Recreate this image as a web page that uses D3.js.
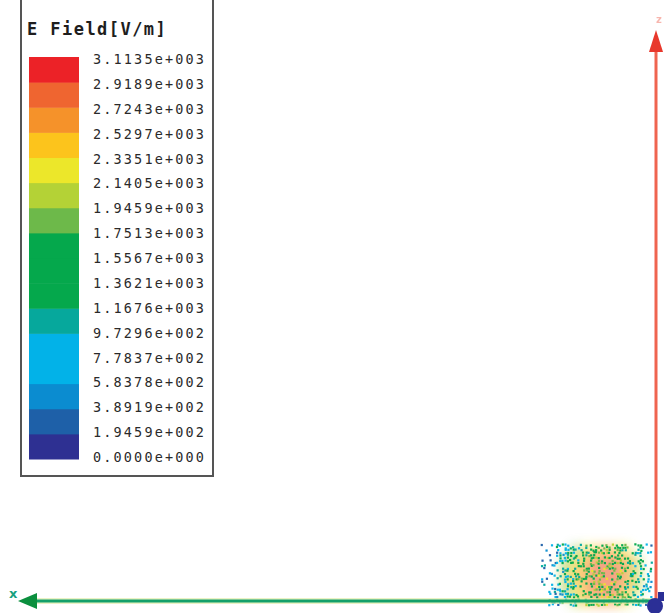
<!DOCTYPE html>
<html>
<head>
<meta charset="utf-8">
<script src="https://cdn.jsdelivr.net/npm/d3@7/dist/d3.min.js"></script>
<style>
  html, body { margin: 0; padding: 0; background: #fff; }
  svg { display: block; }
</style>
</head>
<body>
<svg id="chart" width="664" height="613"></svg>
<script>
// Legend levels of |E| in V/m (top label first) and band colours (lowest band first)
const legendLabels = [
  "3.1135e+003", "2.9189e+003", "2.7243e+003", "2.5297e+003", "2.3351e+003",
  "2.1405e+003", "1.9459e+003", "1.7513e+003", "1.5567e+003", "1.3621e+003",
  "1.1676e+003", "9.7296e+002", "7.7837e+002", "5.8378e+002", "3.8919e+002",
  "1.9459e+002", "0.0000e+000"
];
const bandColors = [
  "#2e3092", "#1e60a8", "#0b8cd0", "#02b2e8", "#02b2e8", "#06a89c",
  "#05a84c", "#05a84c", "#05a84c", "#6db94a", "#b4d236", "#ece72a",
  "#fcc41c", "#f5922a", "#ef6530", "#ec2227"
];

// Sampled field on the plotted face (model units): columns along x, rows along z
const fieldX = [11, 10, 9, 8, 7, 6, 5, 4, 3, 2, 1];
const fieldZ = [5, 4, 3, 2, 1, 0];
// Field magnitude at the surface mesh points (V/m)
const pointField = [
  [600, 750, 1000, 1250, 1500, 1650, 1700, 1600, 1400, 1100, 800],
  [650, 800, 1100, 1350, 1600, 1800, 1850, 1750, 1500, 1200, 850],
  [650, 850, 1150, 1400, 1700, 1900, 1950, 1800, 1550, 1200, 850],
  [650, 850, 1150, 1400, 1700, 1900, 1950, 1800, 1550, 1200, 850],
  [650, 800, 1100, 1350, 1650, 1850, 1900, 1750, 1500, 1150, 800],
  [600, 750, 1050, 1300, 1600, 1800, 1850, 1700, 1450, 1100, 750]
];
// Share of mesh points visible per column
const pointDensity = [0.22, 0.32, 0.42, 0.48, 0.5, 0.52, 0.52, 0.52, 0.5, 0.45, 0.32];
// Volume field behind the face (V/m), 0 where nothing is shown
const volumeField = [
  [0, 0, 0, 1900, 2300, 2500, 2600, 2500, 2300, 0, 0],
  [0, 0, 1900, 2300, 2600, 2800, 2850, 2800, 2600, 2000, 0],
  [0, 0, 2000, 2400, 2700, 2900, 2900, 2850, 2650, 2100, 0],
  [0, 0, 2000, 2400, 2700, 2900, 2900, 2850, 2650, 2100, 0],
  [0, 0, 1900, 2300, 2600, 2800, 2850, 2750, 2500, 2000, 0],
  [0, 0, 0, 2100, 2400, 2600, 2700, 2600, 2300, 0, 0]
];

const svg = d3.select("#chart");
const levels = legendLabels.map(Number);           // descending
const ascending = levels.slice().reverse();
const color = d3.scaleThreshold()
  .domain(ascending.slice(1, -1))
  .range(bandColors);

// ---------- scene scales (model units -> pixels) ----------
const xScale = d3.scaleLinear().domain([0, 64]).range([656, 16]);
const zScale = d3.scaleLinear().domain([0, 57.5]).range([601, 26]);
const cellW = Math.abs(xScale(1) - xScale(0));
const cellH = Math.abs(zScale(1) - zScale(0));

const defs = svg.append("defs");
defs.append("filter").attr("id", "haze").attr("x", "-50%").attr("y", "-50%")
  .attr("width", "200%").attr("height", "200%")
  .append("feGaussianBlur").attr("stdDeviation", 6);
defs.append("filter").attr("id", "soft")
  .append("feGaussianBlur").attr("stdDeviation", 0.45);
defs.append("clipPath").attr("id", "stage")
  .append("rect").attr("x", 0).attr("y", 0).attr("width", 664).attr("height", 613);

const scene = svg.append("g").attr("clip-path", "url(#stage)");

// volume field haze
const hazeG = scene.append("g").attr("filter", "url(#haze)").attr("opacity", 0.6);
volumeField.forEach((row, r) => row.forEach((v, c) => {
  if (v <= 0) return;
  hazeG.append("rect")
    .attr("x", xScale(fieldX[c]) - cellW / 2)
    .attr("y", zScale(fieldZ[r]) - cellH / 2)
    .attr("width", cellW).attr("height", cellH)
    .attr("fill", color(v));
}));

// surface mesh points, interpolated from the sampled field
function sampleGrid(grid, fc, fr) {
  const c0 = Math.max(0, Math.min(grid[0].length - 1, Math.floor(fc)));
  const r0 = Math.max(0, Math.min(grid.length - 1, Math.floor(fr)));
  const c1 = Math.min(grid[0].length - 1, c0 + 1);
  const r1 = Math.min(grid.length - 1, r0 + 1);
  const tc = Math.max(0, Math.min(1, fc - c0)), tr = Math.max(0, Math.min(1, fr - r0));
  const top = grid[r0][c0] * (1 - tc) + grid[r0][c1] * tc;
  const bot = grid[r1][c0] * (1 - tc) + grid[r1][c1] * tc;
  return top * (1 - tr) + bot * tr;
}
// deterministic grain for the mesh-point texture
function grain(i, j, k) {
  const s = Math.sin(i * 12.9898 + j * 78.233 + k * 37.719) * 43758.5453;
  return s - Math.floor(s);
}
const pitch = 2.6;
const x0 = xScale(fieldX[0]) - cellW / 2, x1 = xScale(fieldX[fieldX.length - 1]) + cellW / 2;
const y0 = zScale(fieldZ[0]) - cellH / 2 - 2, y1 = zScale(fieldZ[fieldZ.length - 1]) + cellH / 2;
const pts = [];
for (let i = 0; x0 + i * pitch < x1; i++) {
  for (let j = 0; y0 + j * pitch < y1; j++) {
    const px = x0 + i * pitch, py = y0 + j * pitch;
    const fc = (xScale.invert(px) - fieldX[0]) / (fieldX[1] - fieldX[0]);
    const fr = (zScale.invert(py) - fieldZ[0]) / (fieldZ[1] - fieldZ[0]);
    const dens = pointDensity[Math.max(0, Math.min(pointDensity.length - 1, Math.round(fc)))];
    if (grain(i, j, 1) > dens) continue;
    const v = sampleGrid(pointField, fc, fr) + (grain(i, j, 2) - 0.5) * 900;
    pts.push({ x: px + (grain(i, j, 3) - 0.5) * 1.5, y: py + (grain(i, j, 4) - 0.5) * 1.5, v: Math.max(0, v) });
  }
}
scene.append("g").attr("filter", "url(#soft)")
  .selectAll("rect").data(pts).join("rect")
  .attr("x", d => d.x).attr("y", d => d.y)
  .attr("width", 2.2).attr("height", 2.2)
  .attr("fill", d => color(d.v))
  .attr("opacity", 0.95);

// ---------- coordinate triad ----------
const axisG = scene.append("g");
// x axis (green, pointing left)
axisG.append("line")
  .attr("x1", xScale(0)).attr("x2", xScale(62))
  .attr("y1", zScale(0)).attr("y2", zScale(0))
  .attr("stroke", "#dfeaa0").attr("stroke-width", 6).attr("opacity", 0.6);
axisG.append("line")
  .attr("x1", xScale(0)).attr("x2", xScale(62))
  .attr("y1", zScale(0)).attr("y2", zScale(0))
  .attr("stroke", "#14a06a").attr("stroke-width", 3);
axisG.append("path")
  .attr("d", `M${xScale(63.8)},${zScale(0)} L${xScale(61.9)},${zScale(0) - 8} L${xScale(61.9)},${zScale(0) + 8} Z`)
  .attr("fill", "#0b8f3e");
axisG.append("text")
  .attr("x", 9).attr("y", zScale(0) - 3)
  .attr("font-family", "DejaVu Sans, sans-serif").attr("font-weight", "bold")
  .attr("font-size", 13).attr("fill", "#1aa080").text("x");

// z axis (red, pointing up)
axisG.append("line")
  .attr("x1", xScale(0)).attr("x2", xScale(0))
  .attr("y1", zScale(0)).attr("y2", zScale(55))
  .attr("stroke", "#ef6450").attr("stroke-width", 3);
axisG.append("path")
  .attr("d", `M${xScale(0)},${zScale(57.1)} L${xScale(0) - 7},${zScale(54.9)} L${xScale(0) + 7},${zScale(54.9)} Z`)
  .attr("fill", "#e8382c");
axisG.append("text")
  .attr("x", xScale(0)).attr("y", zScale(57.8))
  .attr("font-family", "DejaVu Sans, sans-serif").attr("font-weight", "bold")
  .attr("font-size", 10).attr("fill", "#f07060").attr("opacity", 0.5).text("z");

// y axis (blue, toward the viewer)
axisG.append("rect")
  .attr("x", xScale(0) + 2).attr("y", zScale(0.9)).attr("width", 8).attr("height", 9)
  .attr("fill", "#2b2f96");
axisG.append("circle")
  .attr("cx", xScale(0) - 1).attr("cy", zScale(-0.5)).attr("r", 8)
  .attr("fill", "#2b2f96");

// ---------- legend ----------
const legend = svg.append("g");
legend.append("rect")
  .attr("x", 21).attr("y", -6).attr("width", 192).attr("height", 482)
  .attr("fill", "#fff").attr("stroke", "#555").attr("stroke-width", 2);
legend.append("text")
  .attr("x", 27).attr("y", 35)
  .attr("font-family", "DejaVu Sans Mono, monospace").attr("font-weight", "bold")
  .attr("font-size", 17).attr("letter-spacing", 1.45).attr("fill", "#1e1e1e")
  .text("E Field[V/m]");

const legendScale = d3.scaleLinear()
  .domain([levels[0], levels[levels.length - 1]])
  .range([57, 459]);
legend.append("g").selectAll("rect")
  .data(bandColors.map((c, i) => ({ c, lo: ascending[i], hi: ascending[i + 1] })))
  .join("rect")
  .attr("x", 29).attr("width", 50)
  .attr("y", d => legendScale(d.hi))
  .attr("height", d => legendScale(d.lo) - legendScale(d.hi) + 0.5)
  .attr("fill", d => d.c);

legend.append("g").selectAll("text")
  .data(legendLabels)
  .join("text")
  .attr("x", 93)
  .attr("y", (d, i) => legendScale(+d) + 3 - i * 0.25)
  .attr("dominant-baseline", "middle")
  .attr("font-family", "DejaVu Sans Mono, monospace")
  .attr("font-size", 13.5).attr("letter-spacing", 2.15)
  .attr("fill", "#2a2a2a")
  .text(d => d);
</script>
</body>
</html>
